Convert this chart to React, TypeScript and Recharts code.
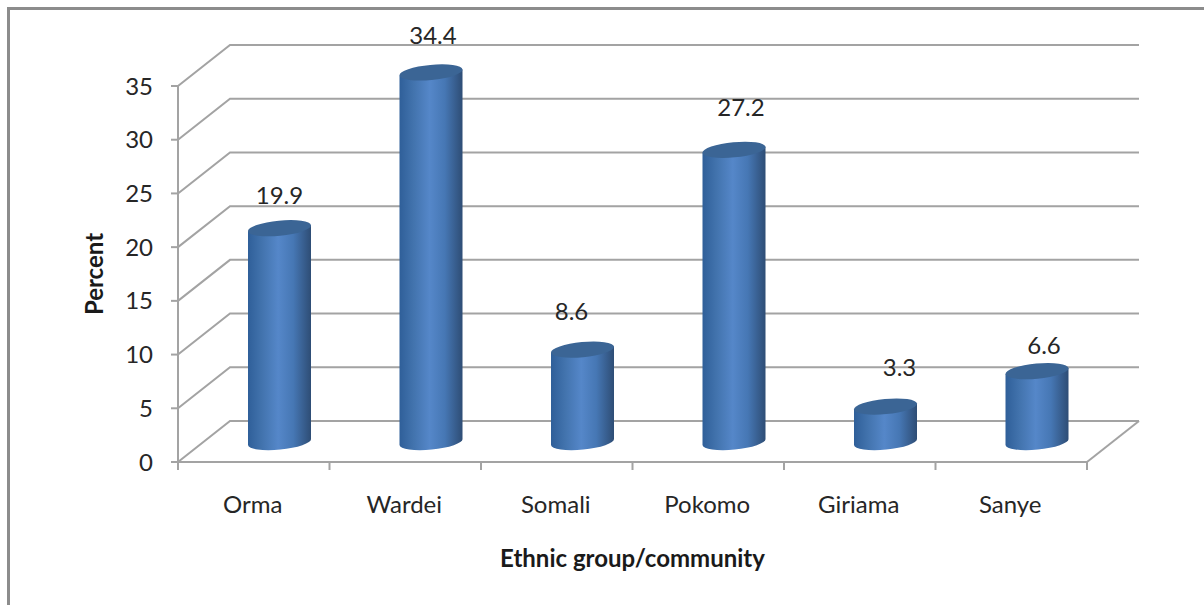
import { Bar, BarChart, CartesianGrid, LabelList, XAxis, YAxis } from 'recharts';

const groups = ['Orma', 'Wardei', 'Somali', 'Pokomo', 'Giriama', 'Sanye'];
const percents = [19.9, 34.4, 8.6, 27.2, 3.3, 6.6];
const percentTicks = [0, 5, 10, 15, 20, 25, 30, 35];

const rows = groups.map((name, i) => ({ name, percent: percents[i] }));

const WIDTH = 1204;
const HEIGHT = 605;
const PLOT_LEFT = 178;
const PLOT_RIGHT = 1087;
const PLOT_TOP = 86;
const PLOT_BOTTOM = 462;
const FONT = 'Lato, "Open Sans", sans-serif';
const TEXT = '#262626';
const RULE = '#a3a3a3';

// chart box depth, and where the cylinders stand inside it
const DEPTH_X = 52;
const DEPTH_Y = 41;
const BAR_SHIFT_X = 26;
const BAR_SHIFT_Y = 20;

// hand-placed value labels, relative to the top of each cylinder
const labelShift = [
  [0, -34],
  [2, -38],
  [-11, -39],
  [7, -43],
  [14, -40],
  [7, -27],
];

const RY = 7.6;
const SKEW = 3;

function Cylinder({ x, y, width, height }: any) {
  const cx = x + width / 2 + BAR_SHIFT_X;
  const top = y - BAR_SHIFT_Y;
  const bottom = y + height - BAR_SHIFT_Y;
  const hx = width / 2;
  // the ends are half-ellipses whose long axis joins the two side edges
  const rx = Math.hypot(hx, SKEW);
  const tilt = (Math.atan2(-SKEW, hx) * 180) / Math.PI;
  const arc = `A${rx} ${RY} ${tilt}`;
  const body =
    `M${cx - hx} ${top + SKEW} L${cx + hx} ${top - SKEW} ` +
    `L${cx + hx} ${bottom - SKEW} ${arc} 0 1 ${cx - hx} ${bottom + SKEW} Z`;
  const cap =
    `M${cx - hx} ${top + SKEW} ${arc} 0 1 ${cx + hx} ${top - SKEW} ` +
    `${arc} 0 1 ${cx - hx} ${top + SKEW} Z`;
  return (
    <g>
      <path d={body} fill="url(#cylinderSide)" />
      <path d={cap} fill="#3b6595" />
    </g>
  );
}

// each gridline runs up the side wall, then across the back wall
function WallLine({ x1, x2, y1 }: any) {
  const backY = y1 - DEPTH_Y;
  const isFloor = Math.abs(y1 - PLOT_BOTTOM) < 1;
  return (
    <g stroke={RULE} strokeWidth={2} fill="none">
      <path d={`M${x1} ${y1} L${x1 + DEPTH_X} ${backY} L${x2 + DEPTH_X} ${backY}`} />
      {isFloor && <path d={`M${x2} ${y1} L${x2 + DEPTH_X} ${backY}`} />}
    </g>
  );
}

// category axis ticks sit on the band edges, not the band centres
function GroupTick({ x, y, payload, index }: any) {
  const band = (PLOT_RIGHT - PLOT_LEFT) / groups.length;
  const left = x - band / 2;
  return (
    <g>
      <line x1={left} x2={left} y1={PLOT_BOTTOM} y2={PLOT_BOTTOM + 8} stroke={RULE} strokeWidth={2} />
      {index === groups.length - 1 && (
        <line x1={left + band} x2={left + band} y1={PLOT_BOTTOM} y2={PLOT_BOTTOM + 8} stroke={RULE} strokeWidth={2} />
      )}
      <text x={x - 1} y={y + 43} textAnchor="middle" fontSize={24} fontFamily={FONT} fill={TEXT}>
        {payload.value}
      </text>
    </g>
  );
}

function ValueLabel({ x, y, width, value, index }: any) {
  const [dx, dy] = labelShift[index];
  return (
    <text
      x={x + width / 2 + BAR_SHIFT_X + dx}
      y={y - BAR_SHIFT_Y + dy}
      textAnchor="middle"
      dominantBaseline="central"
      fontSize={24}
      fontFamily={FONT}
      fill={TEXT}
    >
      {value}
    </text>
  );
}

export default function App() {
  return (
    <div
      style={{
        position: 'absolute',
        left: 0,
        top: 0,
        width: WIDTH,
        height: HEIGHT,
        overflow: 'hidden',
        background: '#fff',
      }}
    >
      <div
        style={{
          position: 'absolute',
          left: 7,
          top: 7,
          right: 0,
          bottom: 0,
          borderTop: '3px solid #8c8c8c',
          borderLeft: '3px solid #8c8c8c',
        }}
      />
      <div style={{ position: 'absolute', left: 0, top: 0 }}>
        <BarChart
          width={WIDTH}
          height={HEIGHT}
          data={rows}
          barSize={63}
          margin={{ top: PLOT_TOP, right: WIDTH - PLOT_RIGHT, bottom: 0, left: 0 }}
        >
          <defs>
            <linearGradient id="cylinderSide" x1="0" y1="0" x2="1" y2="0">
              <stop offset="0%" stopColor="#2f5f99" />
              <stop offset="22%" stopColor="#4273ad" />
              <stop offset="48%" stopColor="#5587c9" />
              <stop offset="72%" stopColor="#4677b4" />
              <stop offset="100%" stopColor="#2e4d75" />
            </linearGradient>
          </defs>
          <CartesianGrid vertical={false} horizontal={(p: any) => <WallLine key={p.key} {...p} />} />
          <XAxis
            dataKey="name"
            height={HEIGHT - PLOT_BOTTOM}
            axisLine={{ stroke: RULE, strokeWidth: 2 }}
            tickLine={false}
            tick={<GroupTick />}
            interval={0}
            label={{
              value: 'Ethnic group/community',
              position: 'insideBottom',
              offset: 38,
              fontSize: 24,
              fontWeight: 700,
              fontFamily: FONT,
              fill: '#1a1a1a',
            }}
          />
          <YAxis
            width={PLOT_LEFT}
            domain={[0, 35]}
            ticks={percentTicks}
            interval={0}
            tickSize={7}
            tickMargin={18}
            axisLine={{ stroke: RULE, strokeWidth: 2 }}
            tickLine={{ stroke: RULE, strokeWidth: 2 }}
            tick={{ fontSize: 24, fontFamily: FONT, fill: TEXT }}
            label={{
              value: 'Percent',
              angle: -90,
              position: 'insideLeft',
              offset: 94,
              fontSize: 24,
              fontWeight: 700,
              fontFamily: FONT,
              fill: '#1a1a1a',
              style: { textAnchor: 'middle' },
            }}
          />
          <Bar dataKey="percent" shape={<Cylinder />} isAnimationActive={false}>
            <LabelList dataKey="percent" content={<ValueLabel />} />
          </Bar>
        </BarChart>
      </div>
    </div>
  );
}
